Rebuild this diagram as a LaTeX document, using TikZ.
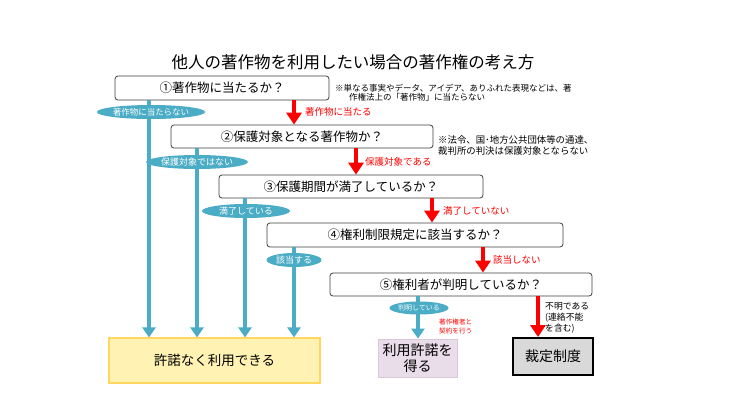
\documentclass[tikz,border=0pt]{standalone}
\usepackage{fontspec}
\setmainfont{Noto Sans CJK JP}
\usetikzlibrary{arrows.meta,shapes.geometric,calc}
\definecolor{tealc}{HTML}{4BACC6}
\definecolor{yfill}{HTML}{FFF2B3}
\definecolor{ydraw}{HTML}{FFD75E}
\definecolor{lfill}{HTML}{E9DDE9}
\definecolor{ldraw}{HTML}{D8C8D8}
\definecolor{gfill}{HTML}{D9D9D9}
\begin{document}
\begin{tikzpicture}[x=1pt,y=-1pt,
  qbox/.style={draw=black!75, rounded corners=3pt, line width=0.8pt, inner sep=0pt, minimum height=23pt, font=\fontsize{12.5}{14}\selectfont},
  oval/.style={ellipse, fill=tealc, text=white, inner sep=0pt, minimum height=14pt, font=\fontsize{8.5}{9}\selectfont},
  tarrow/.style={draw=tealc, line width=4pt, -{Triangle[width=13pt,length=10pt]}},
  rarrow/.style={draw=red, line width=4.5pt, -{Triangle[width=15pt,length=12pt]}},
  rlabel/.style={text=red, anchor=west, inner sep=0pt, font=\fontsize{9.5}{11}\selectfont},
  note/.style={anchor=west, align=left, inner sep=0pt},
  endbox/.style={inner sep=0pt, align=center, font=\fontsize{14}{15.5}\selectfont}
]
\useasboundingbox (0,0) rectangle (740,416);
\fill[white] (0,0) rectangle (740,416);

\node[inner sep=0pt, font=\fontsize{16.5}{18}\selectfont] (title) at (353,62) {他人の著作物を利用したい場合の著作権の考え方};

\node[qbox, minimum width=214pt, minimum height=24pt] (b1) at (222,88) {①著作物に当たるか？};
\node[qbox, minimum width=262pt] (b2) at (302,136.5) {②保護対象となる著作物か？};
\node[qbox, minimum width=264pt] (b3) at (351,186.5) {③保護期間が満了しているか？};
\node[qbox, minimum width=296pt, minimum height=24pt] (b4) at (415,235) {④権利制限規定に該当するか？};
\node[qbox, minimum width=262pt] (b5) at (461,284.5) {⑤権利者が判明しているか？};

\node[note, font=\fontsize{8.5}{9.4}\selectfont] (n1) at (335,93) {※単なる事実やデータ、アイデア、ありふれた表現などは、著\\\hspace*{14pt}作権法上の「著作物」に当たらない};
\node[note, font=\fontsize{9.4}{11}\selectfont] (n2) at (438,145.5) {※法令、国･地方公共団体等の通達、\\裁判所の判決は保護対象とならない};

\node[endbox, fill=yfill, draw=ydraw, line width=1.2pt, minimum width=211pt, minimum height=45pt, font=\fontsize{13.5}{15}\selectfont] (yes) at (214.5,360.5) {許諾なく利用できる};
\node[endbox, fill=lfill, draw=ldraw, line width=0.8pt, minimum width=79pt, minimum height=38pt] (lic) at (417.5,358) {利用許諾を\\得る};
\node[endbox, fill=gfill, draw=black, line width=2pt, minimum width=80pt, minimum height=37pt] (arb) at (553,356.5) {裁定制度};

\coordinate (t1) at (149,0);
\coordinate (t2) at (197,0);
\coordinate (t3) at (245,0);
\coordinate (t4) at (294,0);
\coordinate (t5) at (418,0);
\coordinate (r1) at (294,0);
\coordinate (r2) at (356,0);
\coordinate (r3) at (432,0);
\coordinate (r4) at (483,0);
\coordinate (r5) at (538,0);

\draw[tarrow] (t1 |- b1.south) -- (t1 |- yes.north);
\draw[tarrow] (t2 |- b2.south) -- (t2 |- yes.north);
\draw[tarrow] (t3 |- b3.south) -- (t3 |- yes.north);
\draw[tarrow] (t4 |- b4.south) -- (t4 |- yes.north);
\draw[tarrow] (t5 |- b5.south) -- (t5 |- lic.north);

\draw[rarrow] (r1 |- b1.south) -- (r1 |- b2.north);
\draw[rarrow] (r2 |- b2.south) -- (r2 |- b3.north);
\draw[rarrow] (r3 |- b3.south) -- (r3 |- b4.north);
\draw[rarrow] (r4 |- b4.south) -- (r4 |- b5.north);
\draw[rarrow] (r5 |- b5.south) -- (r5 |- arb.north);

\node[oval, minimum width=92pt] (o1) at (151,112) {著作物に当たらない};
\node[oval, minimum width=87pt, font=\fontsize{9}{10}\selectfont] (o2) at (197,162) {保護対象ではない};
\node[oval, minimum width=88pt, font=\fontsize{9}{10}\selectfont] (o3) at (246,211) {満了している};
\node[oval, minimum width=55pt, font=\fontsize{9}{10}\selectfont] (o4) at (294,260) {該当する};
\node[oval, minimum width=55pt, minimum height=13pt, font=\fontsize{7}{8}\selectfont] (o5) at (419,308) {判明している};

\node[rlabel] (l1) at (305,112) {著作物に当たる};
\node[rlabel] (l2) at (365,162) {保護対象である};
\node[rlabel] (l3) at (443,211) {満了していない};
\node[rlabel] (l4) at (493,260) {該当しない};
\node[rlabel, align=left, font=\fontsize{6.6}{8.5}\selectfont] (l5) at (439,326.5) {著作権者と\\契約を行う};
\node[note, font=\fontsize{8.8}{10.7}\selectfont] (l6) at (545,318) {不明である\\(連絡不能\\を含む)};
\end{tikzpicture}
\end{document}
